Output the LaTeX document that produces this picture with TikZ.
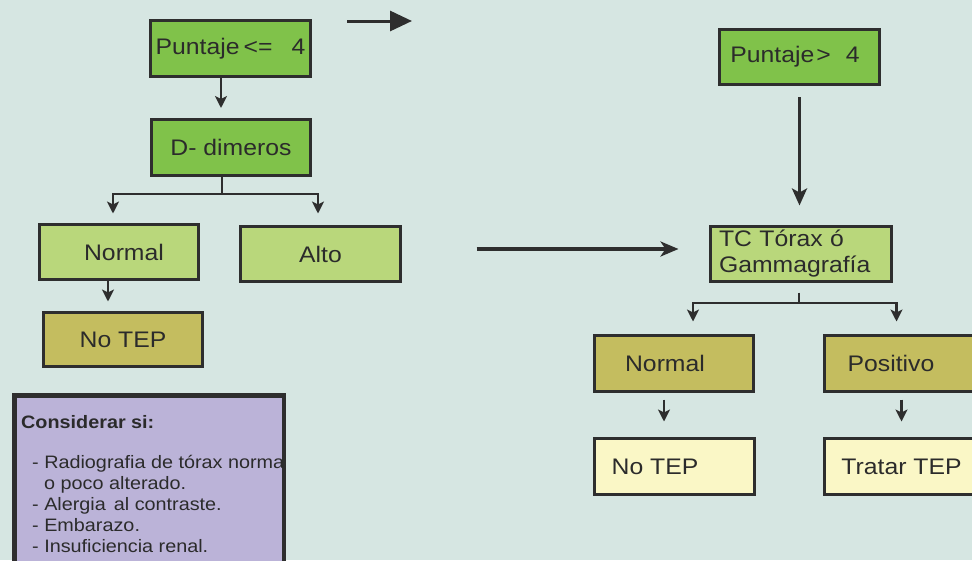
\documentclass[tikz,border=0pt]{standalone}
\usepackage{fontspec}
\setmainfont[FakeStretch=1.1]{Liberation Sans}
\usetikzlibrary{arrows.meta}
\definecolor{bg}{HTML}{D6E6E2}
\definecolor{gA}{HTML}{80C24A}
\definecolor{gB}{HTML}{B9D77B}
\definecolor{olv}{HTML}{C4BD5F}
\definecolor{crm}{HTML}{FAF7C6}
\definecolor{lav}{HTML}{BBB3D8}
\definecolor{edge}{HTML}{2E2E2E}
\definecolor{txt}{HTML}{2B2B2B}
\tikzset{
  box/.style={draw=edge, line width=3pt, rectangle, inner sep=0pt, text=txt,
    font=\fontsize{22.5}{26}\selectfont},
  sa/.style={draw=edge, line width=2.6pt, -{Stealth[length=12pt,width=12pt,inset=3pt]}},
  plainline/.style={draw=edge, line width=2.6pt},
  ba/.style={draw=edge, line width=3.8pt, -{Stealth[length=17pt,width=15pt,inset=4pt]}},
  ha/.style={draw=edge, line width=4pt, -{Stealth[length=18pt,width=15pt,inset=5pt]}},
  ta/.style={draw=edge, line width=3pt, -{Triangle[length=22pt,width=20pt]}},
}
\begin{document}
\begin{tikzpicture}[x=1pt,y=-1pt]
\fill[bg] (0,0) rectangle (972,560);
\useasboundingbox (0,0) rectangle (972,560);
\clip (0,0) rectangle (972,560);

% left column
\node[box, fill=gA, minimum width=160, minimum height=56] (p1) at (230.5,48.5)
  {Puntaje\hspace{4pt}<=\hspace{19pt}4};
\node[box, fill=gA, minimum width=159, minimum height=56] (dd) at (231,147.5)
  {D- dimeros};
\node[box, fill=gB, minimum width=159, minimum height=55] (nL) at (119,252)
  {\hspace*{10pt}Normal};
\node[box, fill=gB, minimum width=160, minimum height=55] (alto) at (320.5,254)
  {Alto};
\node[box, fill=olv, minimum width=159, minimum height=54] (ntL) at (123,339.5)
  {No TEP};

% right column
\node[box, fill=gA, minimum width=160, minimum height=55] (p2) at (799.5,57)
  {\hspace*{-9pt}Puntaje\hspace{2pt}>\hspace{15pt}4};
\node[box, fill=gB, minimum width=181, minimum height=55, text width=164,
  inner xsep=8.5pt, align=left] (tc) at (801,254)
  {TC Tórax ó\\Gammagrafía};
\node[box, fill=olv, minimum width=159, minimum height=56] (nR) at (674,363.5)
  {\hspace*{-18pt}Normal};
\node[box, fill=olv, minimum width=164, minimum height=56] (pos) at (906.5,363.5)
  {\hspace*{-31pt}Positivo};
\node[box, fill=crm, minimum width=160, minimum height=56] (ntR) at (674.5,466.5)
  {\hspace*{-39pt}No TEP};
\node[box, fill=crm, minimum width=164, minimum height=56] (tt) at (906.5,466.5)
  {\hspace*{-10pt}Tratar TEP};

% considerar box
\node[draw=edge, line width=3pt, fill=lav, rectangle, inner sep=0pt,
  anchor=north west, minimum width=268, minimum height=200] (cons) at (13.5,394.5) {};
\begin{scope}
  \clip (cons.north west) rectangle (cons.south east);
  \node[anchor=north west, align=left, inner sep=0pt, text=txt,
    font=\fontsize{18}{21}\selectfont] (lista) at (21,415)
    {\textbf{Considerar si:}\\[19pt]
     \hspace*{11pt}- Radiografia de tórax normal\\
     \hspace*{23pt}o poco alterado.\\
     \hspace*{11pt}- Alergia\hspace{8pt}al contraste.\\
     \hspace*{11pt}- Embarazo.\\
     \hspace*{11pt}- Insuficiencia renal.};
\end{scope}
\draw[draw=edge, line width=3pt] (cons.north west) rectangle (cons.south east);

% connectors
\coordinate (ta1) at (347,21);
\coordinate (ta2) at (412,21);
\draw[ta] (ta1) -- (ta2);

\draw[sa, shorten >=10pt] ([xshift=-9.5pt]p1.south) -- ([xshift=-9.5pt]p1.south |- dd.north);

\coordinate (j1) at (222,194);
\draw[plainline] (dd.south -| j1) -- (j1);
\draw[sa, shorten >=9.5pt] (j1) -| ([xshift=-6pt]nL.north);
\draw[sa, shorten >=11.5pt] (j1) -| ([xshift=-2.5pt]alto.north);

\draw[sa, shorten >=9.5pt] ([xshift=-11pt]nL.south) -- ([xshift=-11pt]nL.south |- ntL.north);

\draw[ba, shorten <=11pt, shorten >=19.5pt] (p2.south) -- (p2.south |- tc.north);

\draw[ha, shorten <=74.5pt, shorten >=30.5pt] ([yshift=5pt]alto.east) -- ([yshift=5pt]tc.west);

\coordinate (j2) at (799,303);
\draw[plainline, shorten <=9.5pt] (tc.south -| j2) -- (j2);
\draw[sa, shorten >=12.5pt] (j2) -| ([xshift=19pt]nR.north);
\draw[sa, shorten >=12.5pt] (j2) -| ([xshift=73.5pt]pos.north west);

\draw[sa, shorten <=6.5pt, shorten >=15.5pt] ([xshift=-10pt]nR.south) -- ([xshift=-10pt]nR.south |- ntR.north);
\draw[sa, shorten <=6.5pt, shorten >=15.5pt] ([xshift=78.5pt]pos.south west) -- ([xshift=78.5pt]pos.south west |- tt.north);
\end{tikzpicture}
\end{document}
